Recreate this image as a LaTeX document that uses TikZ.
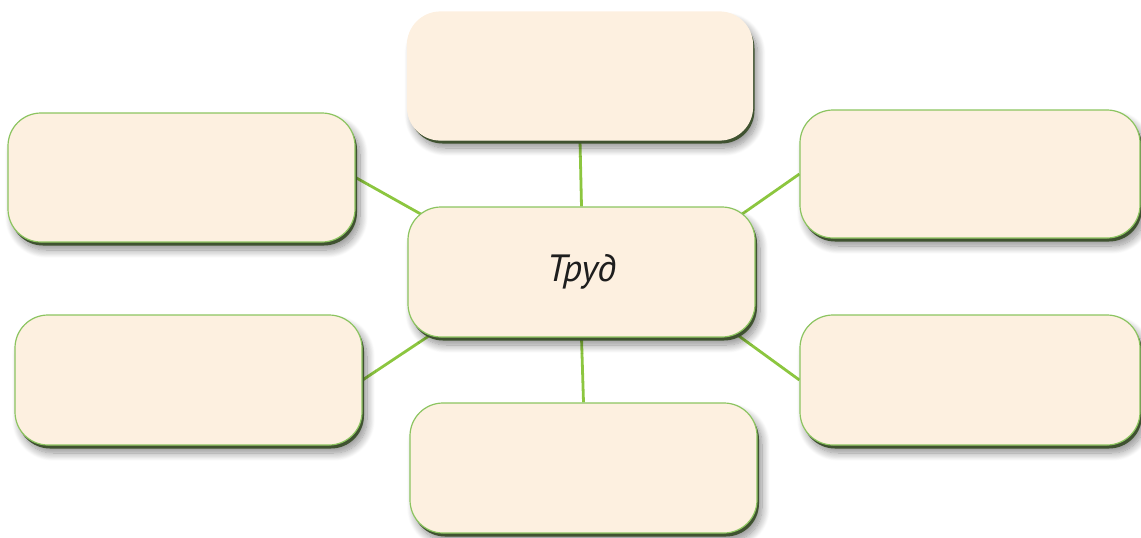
\documentclass[tikz,border=0pt]{standalone}
\usepackage{fontspec}
\newfontfamily\labelfont{PT Sans}
\usetikzlibrary{shadows,shadows.blur,backgrounds,calc}
\definecolor{boxfill}{HTML}{FDF0E0}
\definecolor{boxline}{HTML}{8CC460}
\definecolor{edgedark}{HTML}{3F5230}
\definecolor{linkgreen}{HTML}{8CC63F}
\definecolor{textgrey}{HTML}{1E1E1E}
\tikzset{
  box/.style={rounded corners=33pt, fill=boxfill, draw=boxline, line width=1.2pt,
    minimum width=345pt, minimum height=128pt, inner sep=0pt,
    blur shadow={shadow xshift=5pt, shadow yshift=-8pt, shadow blur steps=14, shadow blur radius=8pt, shadow opacity=45},
    general shadow={fill=edgedark, shadow xshift=2pt, shadow yshift=-3.5pt}},
  topbox/.style={box, draw=boxfill},
  link/.style={draw=linkgreen, line width=2.8pt},
}
\begin{document}
\begin{tikzpicture}[x=1pt,y=-1pt]
\useasboundingbox (0,0) rectangle (1141,538);
\node[topbox] (top) at (580,76) {};
\node[box, minimum width=347pt, minimum height=129pt] (lt) at (181.5,177.5) {};
\node[box, minimum width=340pt] (rt) at (970,174) {};
\node[box, minimum width=347pt, minimum height=130pt] (lb) at (188.5,380) {};
\node[box, minimum width=340pt, minimum height=130pt] (rb) at (970,380) {};
\node[box, minimum width=347pt, minimum height=130pt] (bot) at (583.5,468) {};
\node[box, minimum width=347pt, minimum height=130pt, text=textgrey,
  font=\labelfont\itshape\fontsize{38}{44}\selectfont] (c) at (581.5,272) {Труд};
\begin{pgfonlayer}{background}
\draw[link] (top.south) -- (c.north);
\draw[link] (bot.north) -- (c.south);
\draw[link] (lt.east) -- ($(c.north west)+(14,8)$);
\draw[link] (rt.west) -- ($(c.north east)+(-14,8)$);
\draw[link] (lb.east) -- ($(c.south west)+(25,-4)$);
\draw[link] (rb.west) -- ($(c.south east)+(-20,-4)$);
\end{pgfonlayer}
\end{tikzpicture}
\end{document}
